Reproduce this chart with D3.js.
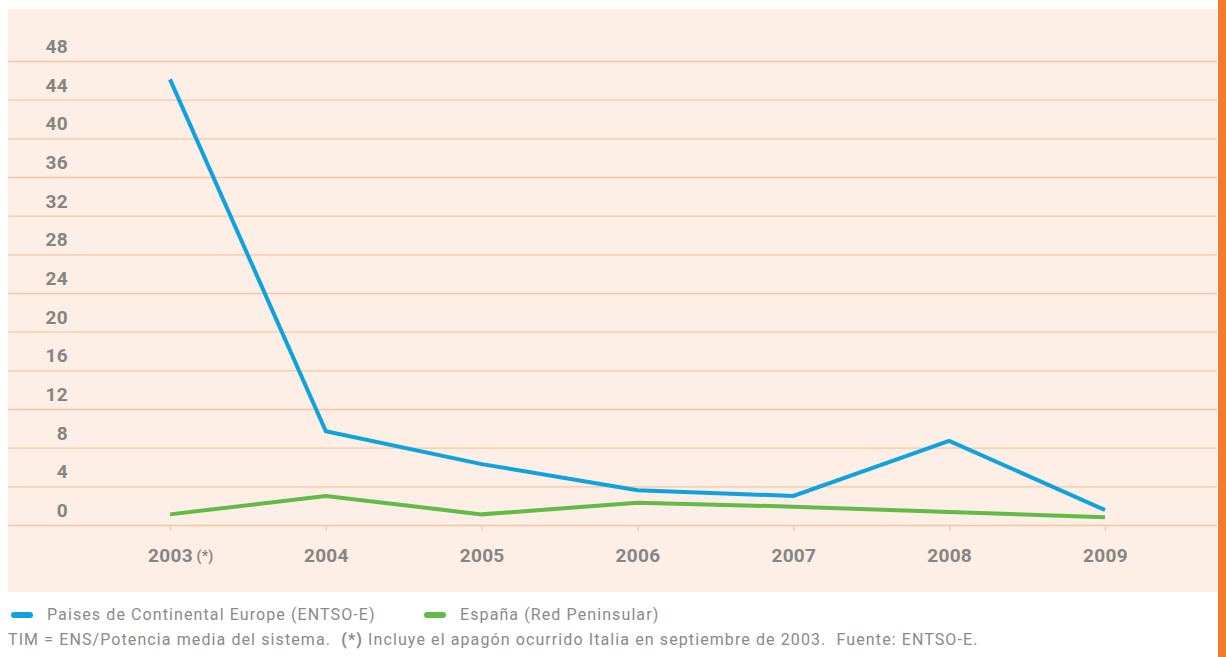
<!DOCTYPE html>
<html>
<head>
<meta charset="utf-8">
<script src="https://cdn.jsdelivr.net/npm/d3@7"></script>
<style>
  body { margin: 0; background: #fff; }
  svg { display: block; }
  .ylab text, .xlab text { font-family: Roboto, sans-serif; font-weight: 700; font-size: 19px; fill: #858585; letter-spacing: 0.3px; }
  .note { font-family: Roboto, sans-serif; font-size: 16px; fill: #8a8a8a; letter-spacing: 1.1px; }
</style>
</head>
<body>
<svg id="svg1"></svg>
<script>
const years = ["2003", "2004", "2005", "2006", "2007", "2008", "2009"];
const europe = [46.1, 9.7, 6.3, 3.6, 3.0, 8.7, 1.55];
const espana = [1.1, 3.0, 1.1, 2.3, 1.9, 1.35, 0.8];
const yTicks = [0, 4, 8, 12, 16, 20, 24, 28, 32, 36, 40, 44, 48];

const W = 1226, H = 657;
const panelLeft = 8, panelRight = 1217, panelTop = 9, panelBottom = 592;

const svg = d3.select("#svg1")
    .attr("width", W)
    .attr("height", H);

// panel + orange side band
svg.append("rect")
    .attr("x", panelLeft).attr("y", panelTop)
    .attr("width", panelRight - panelLeft).attr("height", panelBottom - panelTop)
    .attr("fill", "#fdeee6");

svg.append("rect")
    .attr("x", 1218).attr("y", 0)
    .attr("width", 8).attr("height", H)
    .attr("fill", "#f47b2b");

const xScale = d3.scalePoint()
    .domain(years)
    .range([170, 1105]);

const yScale = d3.scaleLinear()
    .domain([0, 48])
    .range([525, 61]);

// gridlines
svg.append("g")
    .attr("transform", `translate(${panelLeft}, 0)`)
    .call(d3.axisLeft(yScale).tickValues(yTicks).tickSize(-(panelRight - panelLeft)).tickFormat(""))
    .call(g => g.select(".domain").remove())
    .call(g => g.selectAll("line").attr("stroke", "#f9c6a0").attr("stroke-width", 1.3));

// y labels (sit above their lines)
svg.append("g")
    .attr("class", "ylab")
    .attr("transform", "translate(70, 0)")
    .call(d3.axisLeft(yScale).tickValues(yTicks).tickSize(0).tickPadding(2))
    .call(g => g.select(".domain").remove())
    .call(g => g.selectAll("text").attr("dy", -8.5).attr("fill", null));

// x axis
svg.append("g")
    .attr("class", "xlab")
    .attr("transform", "translate(0, 525)")
    .call(d3.axisBottom(xScale).tickSize(6))
    .call(g => g.select(".domain").remove())
    .call(g => g.selectAll("line").attr("stroke", "#f9c6a0").attr("stroke-width", 1.3))
    .call(g => g.selectAll("text").attr("y", 37).attr("dy", 0).attr("fill", null));

svg.select(".xlab").selectAll(".tick")
    .filter(d => d === "2003")
    .append("text")
    .attr("x", 26).attr("y", 36).attr("dy", 0)
    .attr("text-anchor", "start")
    .style("font-size", "14px")
    .text("(*)");

const line = d3.line()
    .x((d, i) => xScale(years[i]))
    .y(d => yScale(d));

svg.append("path")
    .datum(espana)
    .attr("fill", "none")
    .attr("stroke", "#62bb46")
    .attr("stroke-width", 4)
    .attr("d", line);

svg.append("path")
    .datum(europe)
    .attr("fill", "none")
    .attr("stroke", "#0ea2de")
    .attr("stroke-width", 4)
    .attr("d", line);

// legend
const legend = [
  { name: "Paises de Continental Europe (ENTSO-E)", color: "#0ea2de", x: 14 },
  { name: "España (Red Peninsular)", color: "#62bb46", x: 427 }
];

const lg = svg.selectAll(".lg")
    .data(legend)
    .enter().append("g")
    .attr("class", "lg")
    .attr("transform", d => `translate(${d.x}, 615)`);

lg.append("line")
    .attr("x1", 0).attr("x2", 16)
    .attr("stroke", d => d.color)
    .attr("stroke-width", 6)
    .attr("stroke-linecap", "round");

lg.append("text")
    .attr("class", "note")
    .attr("x", 33).attr("y", 5)
    .text(d => d.name);

const foot = svg.append("text")
    .attr("class", "note")
    .attr("x", 8).attr("y", 645);
foot.append("tspan").text("TIM = ENS/Potencia media del sistema.\u00a0 ");
foot.append("tspan").attr("font-weight", 700).text("(*)");
foot.append("tspan").text(" Incluye el apagón ocurrido Italia en septiembre de 2003.\u00a0 Fuente: ENTSO-E.");
</script>
</body>
</html>
